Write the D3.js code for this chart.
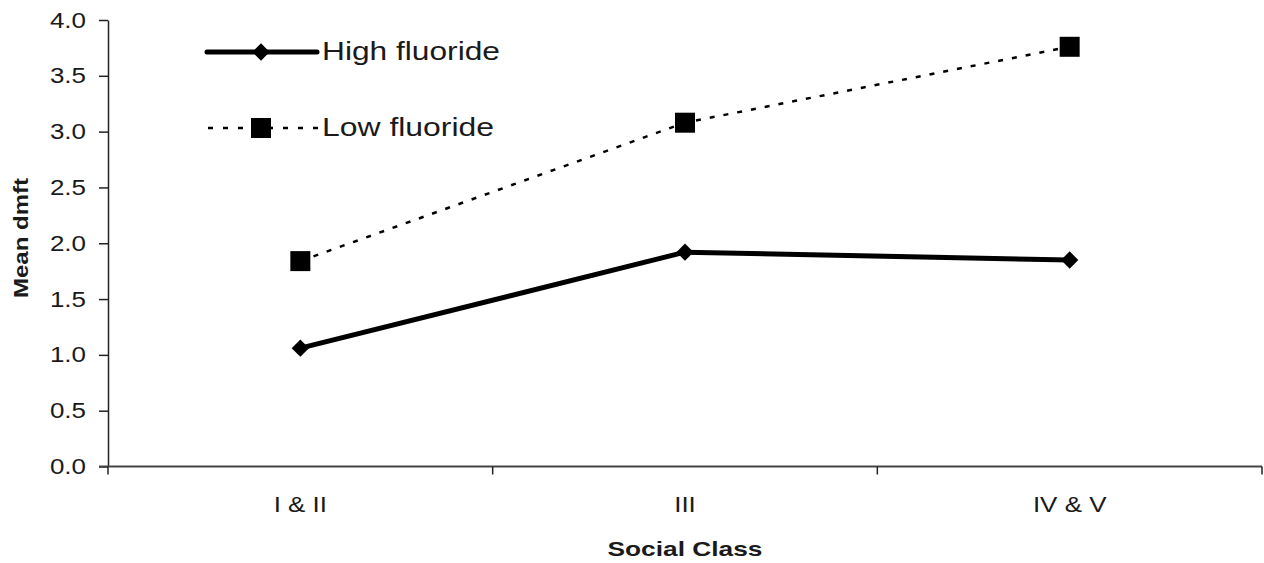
<!DOCTYPE html>
<html><head><meta charset="utf-8">
<script src="https://cdn.jsdelivr.net/npm/d3@7"></script>
<style>body{margin:0;background:#fff}svg{display:block}text{font-family:"Liberation Sans",Arial,sans-serif;fill:#1a1a1a}</style>
</head><body>
<svg id="c" width="1264" height="563"></svg>
<script>
const categories = ["I & II", "III", "IV & V"];
const highFluoride = [1.06, 1.92, 1.85];
const lowFluoride = [1.84, 3.08, 3.76];
const yTicks = [0, 0.5, 1, 1.5, 2, 2.5, 3, 3.5, 4];
const seriesNames = ["High fluoride", "Low fluoride"];

(function(){
const svg = d3.select("#c");
const mLeft = 108, mRight = 1262, mTop = 20, mBottom = 466.5;
const x = d3.scaleBand().domain(categories).range([mLeft, mRight]).padding(0);
const y = d3.scaleLinear().domain([0, 4]).range([mBottom, mTop]);
const stretch = 1.18;
function widen(sel, f) { sel.each(function(){ const w=this.getComputedTextLength(); this.setAttribute("textLength", w*f); this.setAttribute("lengthAdjust","spacingAndGlyphs"); }); }

// Y axis
const ya = svg.append("g").attr("transform", `translate(${mLeft},0)`)
  .call(d3.axisLeft(y).tickValues(yTicks).tickFormat(d3.format(".1f")).tickSize(9).tickSizeOuter(0));
ya.select(".domain").attr("stroke", "#222").attr("stroke-width", 1.5);
ya.selectAll(".tick line").attr("stroke", "#222").attr("stroke-width", 1.5);
ya.selectAll(".tick text").attr("x", -22).attr("font-size", 22).attr("fill", "#1a1a1a").attr("font-family", "Liberation Sans, Arial, sans-serif").call(widen, stretch);

// X axis
const xa = svg.append("g").attr("transform", `translate(0,${mBottom})`)
  .call(d3.axisBottom(x).tickSize(0).tickSizeOuter(0));
xa.select(".domain").attr("stroke", "#444").attr("stroke-width", 1.8).attr("d", `M${mLeft-9},0H${mRight}`);
xa.selectAll(".tick text").attr("y", 45).attr("dy", 0).attr("font-size", 22).attr("fill", "#1a1a1a").attr("font-family", "Liberation Sans, Arial, sans-serif").call(widen, stretch);
const bounds = categories.map(c => x(c)).concat([x(categories[categories.length-1]) + x.bandwidth()]);
xa.selectAll(".bt").data(bounds).join("line").attr("class","bt")
  .attr("x1", d=>d).attr("x2", d=>d).attr("y1", 0).attr("y2", 8).attr("stroke", "#222").attr("stroke-width", 1.5);

// Axis titles
svg.append("text").attr("x", x(categories[1]) + x.bandwidth()/2).attr("y", 556).attr("text-anchor","middle")
  .attr("font-size", 21).attr("font-weight","bold").text("Social Class").attr("textLength", 155).attr("lengthAdjust","spacingAndGlyphs");
svg.append("text").attr("transform", "translate(28,238) rotate(-90)").attr("text-anchor","middle")
  .attr("font-size", 20).attr("font-weight","bold").text("Mean dmft").attr("textLength", 120).attr("lengthAdjust","spacingAndGlyphs");

const cx = c => x(c) + x.bandwidth()/2;
const line = d3.line().x((d,i)=>cx(categories[i])).y(d=>y(d));

// Low fluoride
svg.append("path").datum(lowFluoride).attr("d", line).attr("fill","none").attr("stroke","#000")
  .attr("stroke-width", 2.5).attr("stroke-dasharray","5,9");
const sq = d3.symbol(d3.symbolSquare, 400);
svg.selectAll(".lowpt").data(lowFluoride).join("path").attr("class","lowpt")
  .attr("d", sq).attr("transform", (d,i)=>`translate(${cx(categories[i])},${y(d)})`).attr("fill","#000");

// High fluoride
svg.append("path").datum(highFluoride).attr("d", line).attr("fill","none").attr("stroke","#000")
  .attr("stroke-width", 5).attr("stroke-linejoin","round");
const dm = d3.symbol(d3.symbolSquare, 150);
svg.selectAll(".highpt").data(highFluoride).join("path").attr("class","highpt")
  .attr("d", dm).attr("transform", (d,i)=>`translate(${cx(categories[i])},${y(d)}) rotate(45)`).attr("fill","#000");

// Legend
const lg = svg.append("g");
lg.append("line").attr("x1",207).attr("x2",317).attr("y1",52).attr("y2",52).attr("stroke","#000").attr("stroke-width",5).attr("stroke-linecap","round");
lg.append("path").attr("d", dm).attr("transform","translate(261,52) rotate(45)").attr("fill","#000");
lg.append("text").attr("x",322).attr("y",60).attr("font-size",26).text(seriesNames[0]).attr("textLength",178).attr("lengthAdjust","spacingAndGlyphs");
lg.append("line").attr("x1",208).attr("x2",318).attr("y1",128).attr("y2",128).attr("stroke","#000").attr("stroke-width",2.5).attr("stroke-dasharray","5,10");
lg.append("path").attr("d", sq).attr("transform","translate(261,128)").attr("fill","#000");
lg.append("text").attr("x",322).attr("y",136).attr("font-size",26).text(seriesNames[1]).attr("textLength",172).attr("lengthAdjust","spacingAndGlyphs");
})();
</script>
</body></html>
